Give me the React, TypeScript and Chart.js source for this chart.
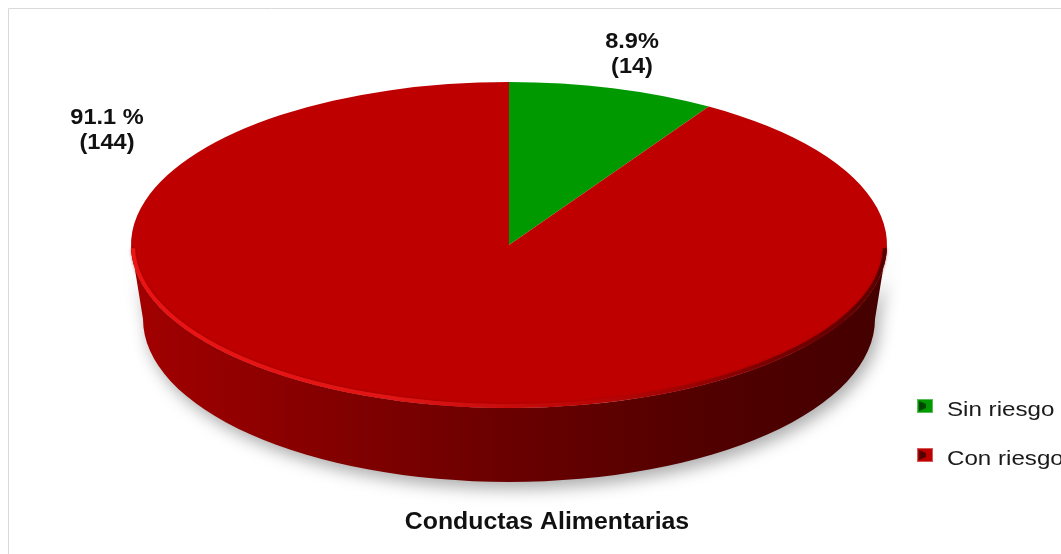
import React, { useEffect, useRef } from "react";
import { Chart, registerables } from "chart.js";

Chart.register(...registerables);

// ---- data ----
const categories = ["Sin riesgo", "Con riesgo"];
const counts = [14, 144];
const percentLabels = ["8.9%", "91.1 %"];
const sliceColors = ["#009900", "#BE0000"];
const chartTitle = "Conductas Alimentarias";

// ---- styling constants ----
const FONT = '"Liberation Sans", Arial, Helvetica, sans-serif';
const TILT = 163 / 378;
const TOP_CY = 245;
const DEPTH = 74;
const BOTTOM_RX_RATIO = 366 / 378;

function shade(hex: string, f: number): string {
  const n = parseInt(hex.slice(1), 16);
  const r = Math.round(((n >> 16) & 255) * f);
  const g = Math.round(((n >> 8) & 255) * f);
  const b = Math.round((n & 255) * f);
  return `rgb(${r},${g},${b})`;
}

function drawText(
  ctx: CanvasRenderingContext2D,
  text: string,
  x: number,
  y: number,
  font: string,
  color: string,
  sx: number,
  align: CanvasTextAlign = "center"
) {
  ctx.save();
  ctx.translate(x, y);
  ctx.scale(sx, 1);
  ctx.font = font;
  ctx.fillStyle = color;
  ctx.textAlign = align;
  ctx.textBaseline = "middle";
  ctx.fillText(text, 0, 0);
  ctx.restore();
}

const pie3d = {
  id: "pie3d",
  beforeDatasetsDraw(chart: any) {
    const ctx: CanvasRenderingContext2D = chart.ctx;
    const meta = chart.getDatasetMeta(0);
    const arcs = meta.data;
    if (!arcs.length) return;
    const a0: any = arcs[0];
    const cx = a0.x;
    const R = a0.outerRadius;
    const rx = R;
    const ry = R * TILT;
    const brx = R * BOTTOM_RX_RATIO;
    const cy = TOP_CY;
    const bcy = TOP_CY + DEPTH;

    const bg = chart.data.datasets[0].backgroundColor as string[];
    arcs.forEach((arc: any, i: number) => {
      const s = arc.startAngle;
      const e = arc.endAngle;
      for (const off of [-2 * Math.PI, 0, 2 * Math.PI]) {
        const ss = Math.max(s + off, 0);
        const ee = Math.min(e + off, Math.PI);
        if (ee <= ss) continue;
        const base = bg[i];
        ctx.save();
        ctx.beginPath();
        ctx.ellipse(cx, cy, rx, ry, 0, ss, ee, false);
        ctx.lineTo(cx + brx * Math.cos(ee), bcy + ry * Math.sin(ee));
        ctx.ellipse(cx, bcy, brx, ry, 0, ee, ss, true);
        ctx.closePath();
        const g = ctx.createLinearGradient(cx - rx, 0, cx + rx, 0);
        g.addColorStop(0, shade(base, 0.86));
        g.addColorStop(0.25, shade(base, 0.7));
        g.addColorStop(0.5, shade(base, 0.56));
        g.addColorStop(0.75, shade(base, 0.43));
        g.addColorStop(1, shade(base, 0.36));
        ctx.fillStyle = g;
        ctx.shadowColor = "rgba(0,0,0,0.32)";
        ctx.shadowBlur = 16;
        ctx.shadowOffsetX = 4;
        ctx.shadowOffsetY = 7;
        ctx.fill();
        ctx.restore();
      }
    });

    // flatten the top face into an ellipse
    ctx.save();
    ctx.translate(0, cy);
    ctx.scale(1, TILT);
    ctx.translate(0, -a0.y);
  },
  afterDatasetsDraw(chart: any) {
    const ctx: CanvasRenderingContext2D = chart.ctx;
    const meta = chart.getDatasetMeta(0);
    const arcs = meta.data;
    if (!arcs.length) return;
    ctx.restore();
    const a0: any = arcs[0];
    const cx = a0.x;
    const R = a0.outerRadius;
    const rx = R - 2;
    const ry = R * TILT - 2;
    // rim highlight on the front edge
    ctx.save();
    ctx.beginPath();
    ctx.ellipse(cx, TOP_CY, rx, ry, 0, 0.02, Math.PI - 0.02, false);
    const g = ctx.createLinearGradient(cx - rx, 0, cx + rx, 0);
    g.addColorStop(0, "rgba(240,20,20,0.95)");
    g.addColorStop(0.35, "rgba(235,25,25,0.85)");
    g.addColorStop(0.6, "rgba(200,10,10,0.6)");
    g.addColorStop(0.85, "rgba(110,0,0,0.8)");
    g.addColorStop(1, "rgba(80,0,0,0.9)");
    ctx.strokeStyle = g;
    ctx.lineWidth = 4;
    ctx.shadowColor = "rgba(120,0,0,0.6)";
    ctx.shadowBlur = 3;
    ctx.stroke();
    ctx.restore();
  },
  afterDraw(chart: any) {
    const ctx: CanvasRenderingContext2D = chart.ctx;
    // frame
    ctx.save();
    ctx.strokeStyle = "#d9d9d9";
    ctx.lineWidth = 1;
    ctx.beginPath();
    ctx.moveTo(8.5, 554);
    ctx.lineTo(8.5, 8.5);
    ctx.lineTo(1061, 8.5);
    ctx.stroke();
    ctx.restore();

    const data = chart.data.datasets[0].data as number[];
    const labelPos = [
      [632, 42],
      [107, 118],
    ];
    data.forEach((v, i) => {
      const [x, y] = labelPos[i];
      drawText(ctx, percentLabels[i], x, y, `bold 22px ${FONT}`, "#111111", 1.07);
      drawText(ctx, `(${v})`, x, y + 25, `bold 22px ${FONT}`, "#111111", 1.07);
    });

    // title
    drawText(ctx, chartTitle, 547, 523, `bold 23px ${FONT}`, "#111111", 1.08);

    // legend
    const bg = chart.data.datasets[0].backgroundColor as string[];
    const labels = chart.data.labels as string[];
    const legendY = [406, 455];
    labels.forEach((lab, i) => {
      const y = legendY[i];
      const x = 917;
      const w = 16;
      const h = 14;
      ctx.save();
      ctx.fillStyle = shade(bg[i], 1.0);
      ctx.fillRect(x, y - h / 2, w, h);
      ctx.fillStyle = shade(bg[i], 0.45);
      ctx.beginPath();
      ctx.moveTo(x + 2, y - h / 2 + 2);
      ctx.lineTo(x + 9, y - 2);
      ctx.lineTo(x + 9, y + 2);
      ctx.lineTo(x + 2, y + h / 2 - 2);
      ctx.closePath();
      ctx.fill();
      ctx.strokeStyle = "rgba(255,255,255,0.35)";
      ctx.lineWidth = 1;
      ctx.strokeRect(x + 0.5, y - h / 2 + 0.5, w - 1, h - 1);
      ctx.restore();
      drawText(ctx, lab, 947, y + 4, `21px ${FONT}`, "#1a1a1a", 1.15, "left");
    });
  },
};

export default function App() {
  const ref = useRef<HTMLCanvasElement | null>(null);
  useEffect(() => {
    if (!ref.current) return;
    const chart = new Chart(ref.current, {
      type: "pie",
      data: {
        labels: categories,
        datasets: [
          {
            data: counts,
            backgroundColor: sliceColors,
            borderWidth: 0,
            clip: false as any,
          } as any,
        ],
      },
      options: {
        responsive: false,
        animation: false,
        radius: 378,
        layout: { padding: { left: 0, right: 43, top: 0, bottom: 0 } },
        plugins: {
          legend: { display: false },
          tooltip: { enabled: false },
          title: { display: false },
        },
        events: [],
      } as any,
      plugins: [pie3d],
    });
    return () => chart.destroy();
  }, []);
  return (
    <div style={{ position: "fixed", left: 0, top: 0, width: 1061, height: 554, background: "#fff" }}>
      <canvas ref={ref} width={1061} height={554} style={{ display: "block" }} />
    </div>
  );
}
